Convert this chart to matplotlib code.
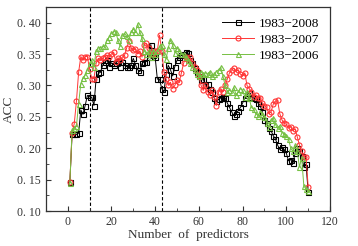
import numpy as np
import matplotlib
matplotlib.use("Agg")
import matplotlib.pyplot as plt
from matplotlib.ticker import MultipleLocator, FuncFormatter

# number of predictors 1..110
n_pred = np.arange(1, 111)

acc_2008 = [
    0.146, 0.222, 0.222, 0.222, 0.224, 0.261, 0.254, 0.268, 0.284, 0.282,
    0.281, 0.268, 0.311, 0.319, 0.321, 0.332, 0.337, 0.340, 0.330, 0.336,
    0.333, 0.336, 0.339, 0.330, 0.338, 0.333, 0.330, 0.330, 0.333, 0.343,
    0.333, 0.325, 0.322, 0.335, 0.338, 0.338, 0.345, 0.365, 0.348, 0.345,
    0.310, 0.310, 0.295, 0.289, 0.318, 0.332, 0.325, 0.315, 0.330, 0.340,
    0.345, 0.348, 0.350, 0.353, 0.352, 0.340, 0.335, 0.328, 0.322, 0.315,
    0.308, 0.310, 0.300, 0.302, 0.295, 0.290, 0.280, 0.275, 0.278, 0.280,
    0.282, 0.280, 0.272, 0.265, 0.258, 0.252, 0.255, 0.260, 0.265, 0.272,
    0.280, 0.285, 0.288, 0.282, 0.280, 0.278, 0.272, 0.268, 0.258, 0.245,
    0.240, 0.232, 0.228, 0.220, 0.215, 0.205, 0.198, 0.202, 0.198, 0.192,
    0.180, 0.182, 0.176, 0.192, 0.200, 0.195, 0.188, 0.170, 0.175, 0.130,
]

acc_2007 = [
    0.147, 0.225, 0.239, 0.275, 0.321, 0.346, 0.340, 0.346, 0.346, 0.326,
    0.311, 0.311, 0.335, 0.343, 0.340, 0.343, 0.346, 0.348, 0.346, 0.350,
    0.353, 0.337, 0.344, 0.340, 0.345, 0.348, 0.360, 0.370, 0.360, 0.356,
    0.358, 0.350, 0.355, 0.345, 0.365, 0.367, 0.360, 0.350, 0.350, 0.355,
    0.355, 0.380, 0.355, 0.322, 0.310, 0.300, 0.305, 0.295, 0.300, 0.308,
    0.305, 0.320, 0.335, 0.345, 0.342, 0.345, 0.335, 0.330, 0.325, 0.315,
    0.300, 0.292, 0.300, 0.290, 0.285, 0.292, 0.282, 0.268, 0.290, 0.295,
    0.290, 0.300, 0.310, 0.320, 0.325, 0.327, 0.322, 0.325, 0.318, 0.315,
    0.320, 0.300, 0.295, 0.290, 0.282, 0.285, 0.280, 0.280, 0.272, 0.268,
    0.265, 0.255, 0.258, 0.270, 0.275, 0.276, 0.255, 0.245, 0.240, 0.238,
    0.232, 0.234, 0.228, 0.231, 0.218, 0.205, 0.195, 0.186, 0.186, 0.138,
]

acc_2006 = [
    0.145, 0.229, 0.232, 0.235, 0.271, 0.303, 0.312, 0.316, 0.325, 0.335,
    0.340, 0.330, 0.355, 0.360, 0.360, 0.362, 0.362, 0.372, 0.377, 0.383,
    0.386, 0.385, 0.372, 0.362, 0.380, 0.383, 0.378, 0.373, 0.385, 0.390,
    0.385, 0.398, 0.385, 0.375, 0.355, 0.350, 0.355, 0.345, 0.355, 0.350,
    0.355, 0.362, 0.365, 0.350, 0.342, 0.360, 0.372, 0.365, 0.352, 0.360,
    0.355, 0.350, 0.350, 0.345, 0.340, 0.335, 0.330, 0.325, 0.318, 0.315,
    0.322, 0.318, 0.320, 0.318, 0.322, 0.315, 0.318, 0.322, 0.325, 0.329,
    0.315, 0.300, 0.290, 0.292, 0.290, 0.297, 0.285, 0.290, 0.295, 0.292,
    0.282, 0.290, 0.280, 0.265, 0.262, 0.255, 0.252, 0.258, 0.255, 0.250,
    0.240, 0.234, 0.245, 0.248, 0.238, 0.232, 0.236, 0.225, 0.223, 0.220,
    0.215, 0.200, 0.195, 0.205, 0.195, 0.170, 0.185, 0.140, 0.135, 0.132,
]

labels = ["1983\u22122008", "1983\u22122007", "1983\u22122006"]
vlines = [10, 43]

plt.rcParams["font.family"] = ["Liberation Serif", "DejaVu Serif"]

fig = plt.figure(figsize=(3.58, 2.46), dpi=100)
ax = fig.add_axes([0.128, 0.142, 0.794, 0.830])

common = dict(markersize=3.6, linewidth=0.7, markerfacecolor="none",
              markeredgewidth=0.8)
ax.plot(n_pred, acc_2008, marker="s", color="black", label=labels[0], **common)
ax.plot(n_pred, acc_2007, marker="o", color="#ff3535", label=labels[1], **common)
ax.plot(n_pred, acc_2006, marker="^", color="#76c043", label=labels[2], **common)

for v in vlines:
    ax.axvline(v, color="black", linestyle=(0, (3, 2)), linewidth=0.8, zorder=0)

ax.set_xlim(-10, 120)
ax.set_ylim(0.10, 0.425)
ax.xaxis.set_major_locator(MultipleLocator(20))
ax.xaxis.set_minor_locator(MultipleLocator(10))
ax.yaxis.set_major_locator(MultipleLocator(0.05))
ax.yaxis.set_minor_locator(MultipleLocator(0.025))
ax.yaxis.set_major_formatter(FuncFormatter(lambda v, p: f"{v:.2f}".replace(".", ". ")))

ax.tick_params(which="both", direction="in", top=False, right=False,
               colors="#333333", labelsize=8.5)
ax.tick_params(which="major", length=3.5)
ax.tick_params(which="minor", length=2)
for s in ax.spines.values():
    s.set_color("#333333")
    s.set_linewidth(0.9)

ax.set_xlabel("Number  of  predictors", fontsize=9.5, color="#333333", labelpad=1)
ax.set_ylabel("ACC", fontsize=9.5, color="#333333", labelpad=2)

ax.legend(loc="upper right", frameon=False, fontsize=9.5, handlelength=2.4,
          handletextpad=0.4, labelspacing=0.3, borderaxespad=0.4)

fig.savefig("out.png", dpi=100)
